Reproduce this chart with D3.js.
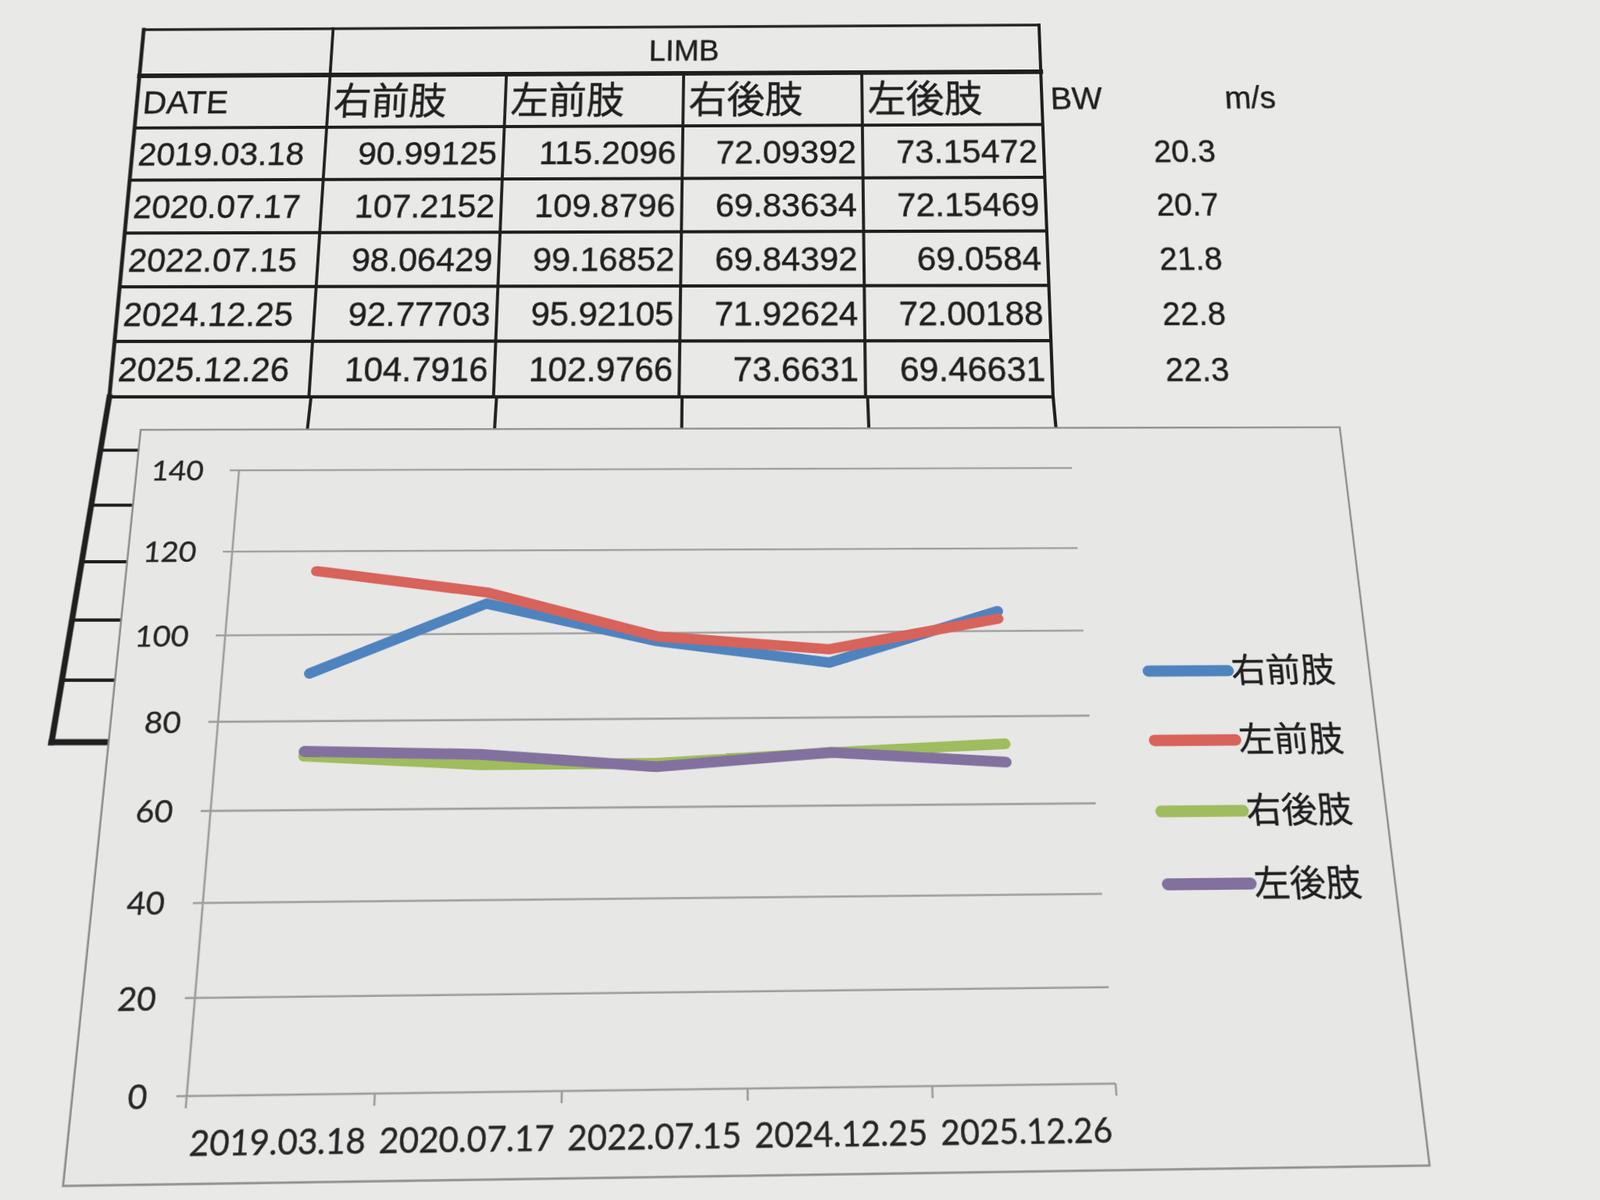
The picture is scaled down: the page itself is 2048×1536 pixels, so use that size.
<!DOCTYPE html>
<html><head><meta charset="utf-8">
<script src="https://cdn.jsdelivr.net/npm/d3@7"></script>
<style>
html,body{margin:0;padding:0;width:2048px;height:1536px;overflow:hidden;background:#e9e9e8;}
.sheet{position:absolute;left:0;top:0;transform-origin:0 0;}
.sheet svg{display:block;overflow:visible;}
</style></head><body>
<script>
// ---------- data ----------
const dates = ["2019.03.18","2020.07.17","2022.07.15","2024.12.25","2025.12.26"];
const limbs = ["右前肢","左前肢","右後肢","左後肢"];
const rightFore = [90.99125,107.2152,98.06429,92.77703,104.7916];
const leftFore  = [115.2096,109.8796,99.16852,95.92105,102.9766];
const rightHind = [72.09392,69.83634,69.84392,71.92624,73.6631];
const leftHind  = [73.15472,72.15469,69.0584,72.00188,69.46631];
const bodyWeight = [20.3,20.7,21.8,22.8,22.3];
const yTicks = [0,20,40,60,80,100,120,140];
const seriesValues = [rightFore,leftFore,rightHind,leftHind];
const colors = ["#4f83be","#d7635a","#9fbc5e","#82719f"];

// ---------- perspective helpers (photo of a printed page) ----------
function homography(src,dst){
  const A=[],b=[];
  for(let i=0;i<4;i++){
    const [x,y]=src[i],[u,v]=dst[i];
    A.push([x,y,1,0,0,0,-x*u,-y*u]); b.push(u);
    A.push([0,0,0,x,y,1,-x*v,-y*v]); b.push(v);
  }
  const n=8;
  for(let c=0;c<n;c++){
    let p=c; for(let r=c+1;r<n;r++) if(Math.abs(A[r][c])>Math.abs(A[p][c])) p=r;
    [A[c],A[p]]=[A[p],A[c]]; [b[c],b[p]]=[b[p],b[c]];
    for(let r=c+1;r<n;r++){const f=A[r][c]/A[c][c]; for(let k=c;k<n;k++) A[r][k]-=f*A[c][k]; b[r]-=f*b[c];}
  }
  const h=new Array(n);
  for(let r=n-1;r>=0;r--){let s=b[r]; for(let k=r+1;k<n;k++) s-=A[r][k]*h[k]; h[r]=s/A[r][r];}
  return h;
}
function cssMatrix(h){return `matrix3d(${h[0]},${h[3]},0,${h[6]},${h[1]},${h[4]},0,${h[7]},0,0,1,0,${h[2]},${h[5]},0,1)`;}
function inverseMap(h){
  const a=h[0],b=h[1],c=h[2],d=h[3],e=h[4],f=h[5],g=h[6],k=h[7],i=1;
  const m=[e*i-f*k, c*k-b*i, b*f-c*e,
           f*g-d*i, a*i-c*g, c*d-a*f,
           d*k-e*g, b*g-a*k, a*e-b*d];
  return (u,v)=>{const w=m[6]*u+m[7]*v+m[8]; return [(m[0]*u+m[1]*v+m[2])/w,(m[3]*u+m[4]*v+m[5])/w];};
}
const page=d3.select("body");
function makeSheet(w,h,src,dst){
  const hm=homography(src,dst);
  const div=page.append("div").attr("class","sheet")
    .style("width",w+"px").style("height",h+"px").style("transform",cssMatrix(hm));
  const svg=div.append("svg").attr("width",w).attr("height",h);
  return {svg,inv:inverseMap(hm)};
}

const ink="#1f1f1f";
const tFont="'Liberation Sans', Arial, sans-serif";
const jFont="'Noto Sans CJK JP', sans-serif";

// ---------- table (upper part) ----------
const TX=20,TY=20;
const colX=[0,250,480,710,940,1170];
const rowY=[0,62,131,199,267,335,403,471];
const tab=makeSheet(1750,520,
  [[TX,TY],[TX+1170,TY],[TX+1170,TY+471],[TX,TY+471]],
  [[184,38],[1330,32],[1348,508],[140,508]]);
const tg=tab.svg.append("g").attr("transform",`translate(${TX},${TY})`);
function hline(g,y,x0,x1,w){g.append("line").attr("x1",x0).attr("x2",x1).attr("y1",y).attr("y2",y).attr("stroke",ink).attr("stroke-width",w).attr("stroke-linecap","square");}
function vline(g,x,y0,y1,w){g.append("line").attr("x1",x).attr("x2",x).attr("y1",y0).attr("y2",y1).attr("stroke",ink).attr("stroke-width",w).attr("stroke-linecap","square");}
hline(tg,0,0,1170,3.5);
hline(tg,rowY[1],0,1170,6);
rowY.slice(2).forEach(y=>hline(tg,y,0,1170,3.8));
vline(tg,0,0,471,5);
vline(tg,colX[1],0,471,3.8);
colX.slice(2,5).forEach(x=>vline(tg,x,rowY[1],471,3.8));
vline(tg,1170,0,471,4);

const txt=(g,x,y,s,size,anchor,font)=>g.append("text").attr("x",x).attr("y",y).attr("text-anchor",anchor||"start")
  .attr("font-family",font||tFont).attr("font-size",size).attr("fill",ink)
  .attr("stroke",ink).attr("stroke-width",0.5).text(s);
const mid=i=>(rowY[i]+rowY[i+1])/2;
txt(tg,(colX[1]+colX[5])/2,mid(0)+14,"LIMB",39,"middle");
txt(tg,8,mid(1)+16,"DATE",43);
limbs.forEach((l,i)=>txt(tg,colX[i+1]+7,mid(1)+18,l,49,"start",jFont));
dates.forEach((d,r)=>{
  txt(tg,8,mid(r+2)+15,d,43);
  seriesValues.forEach((vals,c)=>txt(tg,colX[c+2]-8,mid(r+2)+15,String(vals[r]),43,"end"));
});
txt(tg,1170+11,mid(1)+15,"BW",41);
txt(tg,1170+233,mid(1)+15,"m/s",40);
bodyWeight.forEach((v,r)=>txt(tg,1170+178,mid(r+2)+15,String(v),40,"middle"));

// ---------- table (lower, empty rows) ----------
const low=makeSheet(1300,480,
  [[TX,TY],[TX+1170,TY],[TX+1170,TY+432],[TX,TY+432]],
  [[140,508],[1348,508],[1388,950],[66,950]]);
const lg=low.svg.append("g").attr("transform",`translate(${TX},${TY})`);
d3.range(1,6).forEach(i=>hline(lg,i*72,0,1170,4));
hline(lg,432,0,1170,7);
colX.slice(1,5).forEach(x=>vline(lg,x,0,432,3.8));
vline(lg,1170,0,432,4);
vline(lg,0,0,432,7);

// ---------- chart ----------
const OX=220,OY=120,PW=1100,PH=800;
const ch=makeSheet(1900,1150,
  [[OX,OY],[OX+PW,OY],[OX+PW,OY+PH],[OX,OY+PH]],
  [[306,602],[1372,599],[1428,1387],[239,1403]]);
const cs=ch.svg;
// chart frame from photo corners
const bTL=ch.inv(172,551),bTR=ch.inv(1727,546),bBR=ch.inv(1816,1493),bBL=ch.inv(90,1517);
const bx0=(bTL[0]+bBL[0])/2,bx1=(bTR[0]+bBR[0])/2,by0=(bTL[1]+bTR[1])/2,by1=(bBL[1]+bBR[1])/2;
cs.append("rect").attr("x",bx0).attr("y",by0).attr("width",bx1-bx0).attr("height",by1-by0)
  .attr("fill","#e7e7e6").attr("stroke","#8c8c8c").attr("stroke-width",2.5);

const x=d3.scaleBand().domain(dates).range([OX,OX+PW]);
const y=d3.scaleLinear().domain([0,140]).range([OY+PH,OY]);
const grid="#9d9d9d";
cs.append("g").selectAll("line").data(yTicks).join("line")
  .attr("x1",OX-12).attr("x2",OX+PW).attr("y1",d=>y(d)).attr("y2",d=>y(d))
  .attr("stroke",grid).attr("stroke-width",2.6);
cs.append("line").attr("x1",OX).attr("x2",OX).attr("y1",OY).attr("y2",OY+PH).attr("stroke",grid).attr("stroke-width",2.6);
cs.append("g").selectAll("line").data(d3.range(dates.length+1)).join("line")
  .attr("x1",i=>OX+i*x.bandwidth()).attr("x2",i=>OX+i*x.bandwidth())
  .attr("y1",OY+PH).attr("y2",OY+PH+14).attr("stroke",grid).attr("stroke-width",2.6);
cs.append("g").selectAll("text").data(yTicks).join("text")
  .attr("x",OX-46).attr("y",d=>y(d)+14).attr("text-anchor","end")
  .attr("font-family","Lato, sans-serif").attr("font-size",39).attr("fill","#262626")
  .attr("stroke","#262626").attr("stroke-width",0.4).text(d=>d);
cs.append("g").selectAll("text").data(dates).join("text")
  .attr("x",d=>x(d)+x.bandwidth()/2).attr("y",OY+PH+68).attr("text-anchor","middle")
  .attr("font-family","Lato, sans-serif").attr("font-size",40).attr("fill","#262626")
  .attr("stroke","#262626").attr("stroke-width",0.4).text(d=>d);

const line=d3.line().x((d,i)=>x(dates[i])+x.bandwidth()/2).y(d=>y(d));
cs.append("g").selectAll("path").data(seriesValues).join("path")
  .attr("d",line).attr("fill","none").attr("stroke",(d,i)=>colors[i])
  .attr("stroke-width",14).attr("stroke-linecap","round").attr("stroke-linejoin","round");

// legend (placed from photo positions)
const lA=ch.inv(1470,859),lB=ch.inv(1495,1132),lE=ch.inv(1572,859);
const legLen=lE[0]-lA[0];
const leg=cs.append("g").selectAll("g").data(limbs).join("g")
  .attr("transform",(d,i)=>`translate(${lA[0]+(lB[0]-lA[0])*i/3},${lA[1]+(lB[1]-lA[1])*i/3})`);
leg.append("line").attr("x1",0).attr("x2",legLen).attr("stroke",(d,i)=>colors[i])
  .attr("stroke-width",15).attr("stroke-linecap","round");
leg.append("text").attr("x",legLen+4).attr("y",16).attr("font-family",jFont).attr("font-size",45)
  .attr("fill",ink).attr("stroke",ink).attr("stroke-width",0.4).text(d=>d);
</script>
</body></html>
